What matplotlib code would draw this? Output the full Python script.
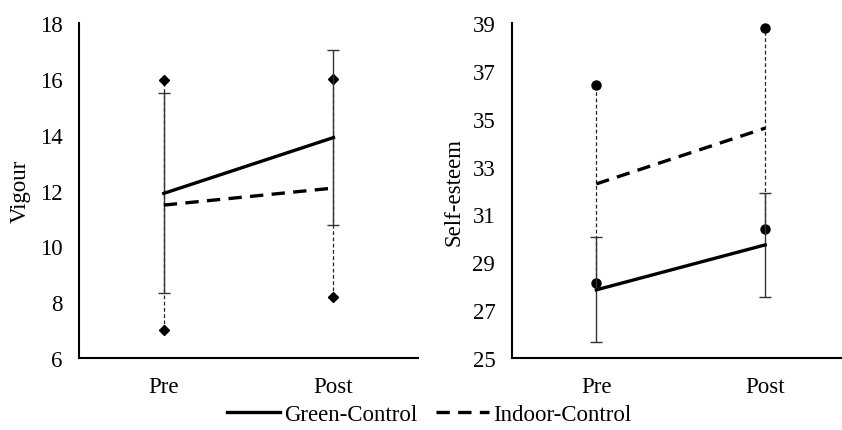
import matplotlib
matplotlib.use("Agg")
import matplotlib.pyplot as plt
import numpy as np
from matplotlib.lines import Line2D

plt.rcParams['font.family'] = ['Liberation Serif', 'DejaVu Serif']

times = ["Pre", "Post"]

vigour_green_mean = [11.9, 13.9]
vigour_green_sd = [3.58, 3.12]
vigour_indoor_mean = [11.48, 12.09]
vigour_indoor_sd = [4.47, 3.91]

self_green_mean = [27.85, 29.73]
self_green_sd = [2.2, 2.16]
self_indoor_mean = [32.28, 34.61]
self_indoor_sd = [4.15, 4.2]

vigour_ticks = [6, 8, 10, 12, 14, 16, 18]
self_ticks = [25, 27, 29, 31, 33, 35, 37, 39]

FS = 16.5

fig = plt.figure(figsize=(8.42, 4.31), dpi=100)
ax1 = fig.add_axes([0.0938, 0.167, 0.403, 0.777])
ax2 = fig.add_axes([0.608, 0.167, 0.401, 0.777])

def draw(ax, gm, gs, im, isd, marker, ylabel, ticks):
    x = np.arange(len(times))
    gm = np.array(gm); gs = np.array(gs); im = np.array(im); isd = np.array(isd)
    # indoor error bars (dashed thin, markers at ends)
    ax.vlines(x, im - isd, im + isd, colors='#222222', linewidth=0.9,
              linestyles=(0, (3, 2)), zorder=2)
    ms = 5.5 if marker == 'D' else 6.5
    ax.plot(x, im + isd, linestyle='none', marker=marker, color='black',
            markersize=ms, zorder=3)
    ax.plot(x, im - isd, linestyle='none', marker=marker, color='black',
            markersize=ms, zorder=3)
    # green error bars
    ax.errorbar(x, gm, yerr=gs, fmt='none', ecolor='#333333', elinewidth=1.0,
                capsize=4, capthick=1.0, zorder=4)
    # mean lines
    ax.plot(x, gm, color='black', linewidth=2.4, zorder=5)
    ax.plot(x, im, color='black', linewidth=2.4, dashes=(4, 2.5), zorder=5)
    ax.set_xlim(-0.5, 1.5)
    ax.set_ylim(ticks[0], ticks[-1])
    ax.set_yticks(ticks)
    ax.set_xticks(x)
    ax.set_xticklabels(times)
    ax.tick_params(axis='both', length=0, labelsize=FS, colors='black')
    ax.tick_params(axis='y', pad=12)
    ax.tick_params(axis='x', pad=13)
    ax.set_ylabel(ylabel, fontsize=FS, labelpad=6)
    for s in ['top', 'right']:
        ax.spines[s].set_visible(False)
    for s in ['left', 'bottom']:
        ax.spines[s].set_linewidth(1.5)
        ax.spines[s].set_color('black')

draw(ax1, vigour_green_mean, vigour_green_sd, vigour_indoor_mean, vigour_indoor_sd,
     'D', 'Vigour', vigour_ticks)
draw(ax2, self_green_mean, self_green_sd, self_indoor_mean, self_indoor_sd,
     'o', 'Self-esteem', self_ticks)

handles = [Line2D([], [], color='black', linewidth=2.4),
           Line2D([], [], color='black', linewidth=2.4, dashes=(4, 2.5))]
fig.legend(handles, ['Green-Control', 'Indoor-Control'], loc='center',
           bbox_to_anchor=(0.51, 0.035), ncol=2, frameon=False, fontsize=FS,
           handlelength=2.3, handletextpad=0.2, columnspacing=0.8,
           borderpad=0, borderaxespad=0)

fig.savefig('out.png', dpi=100)
